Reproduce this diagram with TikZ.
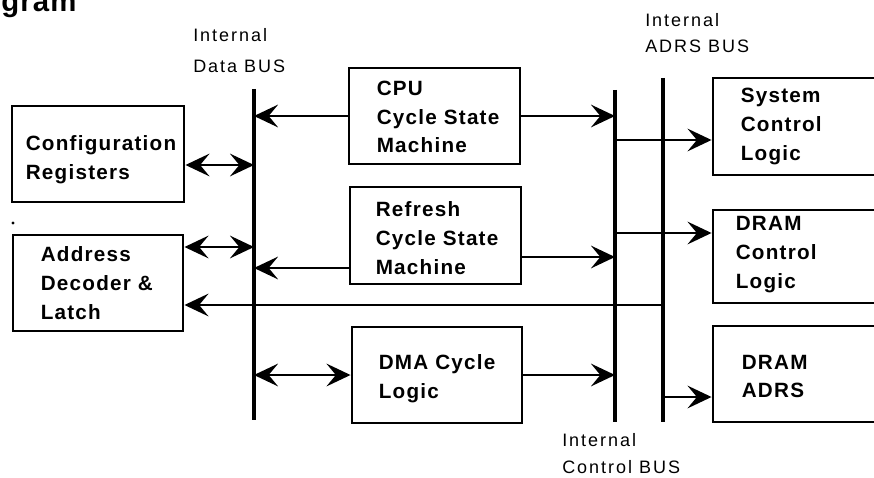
\documentclass[tikz,border=0pt]{standalone}
\usepackage{fontspec}
\setmainfont{Liberation Sans}
\newfontfamily\blocksans{Liberation Sans}[LetterSpace=6]
\newfontfamily\labelsans{Liberation Sans}[LetterSpace=11]
\newfontfamily\headsans{Liberation Sans}[LetterSpace=4]
\usetikzlibrary{arrows.meta,calc}

\begin{document}
\begin{tikzpicture}[x=0.75pt,y=-0.75pt,
  >={Stealth[length=18pt,width=17pt,inset=7pt]},
  blk/.style={draw,line width=2.2pt,inner sep=0pt},
  blktext/.style={anchor=west,align=left,inner sep=0pt,
    font=\blocksans\bfseries\fontsize{15.5}{21.5}\selectfont},
  buslabel/.style={anchor=west,align=left,inner sep=0pt},
  bus/.style={line width=3pt},
  conn/.style={line width=1.9pt}]

\useasboundingbox (0,0) rectangle (874,478);
\clip (0,0) rectangle (874,478);

% heading (only its tail is on the sheet)
\node[anchor=base west,inner sep=0pt,
      font=\headsans\bfseries\fontsize{22}{22}\selectfont] (ttl) at (1,12) {gram};

% the three buses
\coordinate (dbus) at (254,89);  \coordinate (dbusB) at (254,420);
\coordinate (cbus) at (615,90);  \coordinate (cbusB) at (615,422);
\coordinate (abus) at (663,78);  \coordinate (abusB) at (663,422);
\draw[bus] (dbus) -- (dbusB);
\draw[bus] (cbus) -- (cbusB);
\draw[bus] (abus) -- (abusB);

% bus labels
\node[buslabel,font=\labelsans\fontsize{13.5}{23.25}\selectfont] (dlbl) at (193,50.5) {Internal\\Data BUS};
\node[buslabel,font=\labelsans\fontsize{13.5}{19.5}\selectfont] (albl) at (645,33) {Internal\\ADRS BUS};
\node[buslabel,font=\labelsans\fontsize{13.5}{20.25}\selectfont] (clbl) at (562,453.5) {Internal\\Control BUS};

% blocks
\node[blk,minimum width=172*0.75pt,minimum height=96*0.75pt] (cfg) at (98,154) {};
\node[blk,minimum width=170*0.75pt,minimum height=96*0.75pt] (adr) at (98,283) {};
\node[blk,minimum width=171*0.75pt,minimum height=96*0.75pt] (cpu) at (434.5,116) {};
\node[blk,minimum width=171*0.75pt,minimum height=97*0.75pt] (ref) at (435.5,235.5) {};
\node[blk,minimum width=170*0.75pt,minimum height=96*0.75pt] (dma) at (437,375) {};
\node[blk,minimum width=187*0.75pt,minimum height=97*0.75pt] (sys) at (806.5,126.5) {};
\node[blk,minimum width=187*0.75pt,minimum height=93*0.75pt] (dctl) at (806.5,256.5) {};
\node[blk,minimum width=187*0.75pt,minimum height=96*0.75pt] (dadr) at (806.5,374) {};

% block texts
\node[blktext] (cfgT)  at ($(cfg.west)+(15,5.4)$)  {Configuration\\Registers};
\node[blktext] (adrT)  at ($(adr.west)+(29,0)$)    {Address\\Decoder \&\\Latch};
\node[blktext] (cpuT)  at ($(cpu.west)+(29,1)$)    {CPU\\Cycle State\\Machine};
\node[blktext] (refT)  at ($(ref.west)+(27,2.5)$)  {Refresh\\Cycle State\\Machine};
\node[blktext] (dmaT)  at ($(dma.west)+(28,3.4)$)  {DMA Cycle\\Logic};
\node[blktext] (sysT)  at ($(sys.west)+(29,0)$)    {System\\Control\\Logic};
\node[blktext] (dctlT) at ($(dctl.west)+(24,-2)$)  {DRAM\\Control\\Logic};
\node[blktext] (dadrT) at ($(dadr.west)+(30,2.5)$) {DRAM\\ADRS};

% stray dot
\fill (13,223) circle (1.6);

% attachment points
\coordinate (cfgR)  at ($(cfg.east)+(0,11)$);
\coordinate (adrR)  at ($(adr.east)+(0,-36)$);
\coordinate (adrIn) at ($(adr.east)+(0,22)$);
\coordinate (refL)  at ($(ref.west)+(0,32.5)$);
\coordinate (refR)  at ($(ref.east)+(0,21.5)$);
\coordinate (sysIn) at ($(sys.west)+(0,13.5)$);
\coordinate (dctlIn) at ($(dctl.west)+(0,-23.5)$);
\coordinate (dadrIn) at ($(dadr.west)+(0,23)$);

% connectors
\draw[conn,->]  (cpu.west) -- (cpu.west -| dbus);
\draw[conn,->]  (cpu.east) -- (cpu.east -| cbus);
\draw[conn,<->] (cfgR) -- (cfgR -| dbus);
\draw[conn,<->] (adrR) -- (adrR -| dbus);
\draw[conn,->]  (refL) -- (refL -| dbus);
\draw[conn,->]  (refR) -- (refR -| cbus);
\draw[conn,->]  (adrIn -| abus) -- (adrIn);
\draw[conn,<->] (dma.west -| dbus) -- (dma.west);
\draw[conn,->]  (dma.east) -- (dma.east -| cbus);
\draw[conn,->]  (sysIn -| cbus) -- (sysIn);
\draw[conn,->]  (dctlIn -| cbus) -- (dctlIn);
\draw[conn,->]  (dadrIn -| abus) -- (dadrIn);
\end{tikzpicture}
\end{document}
